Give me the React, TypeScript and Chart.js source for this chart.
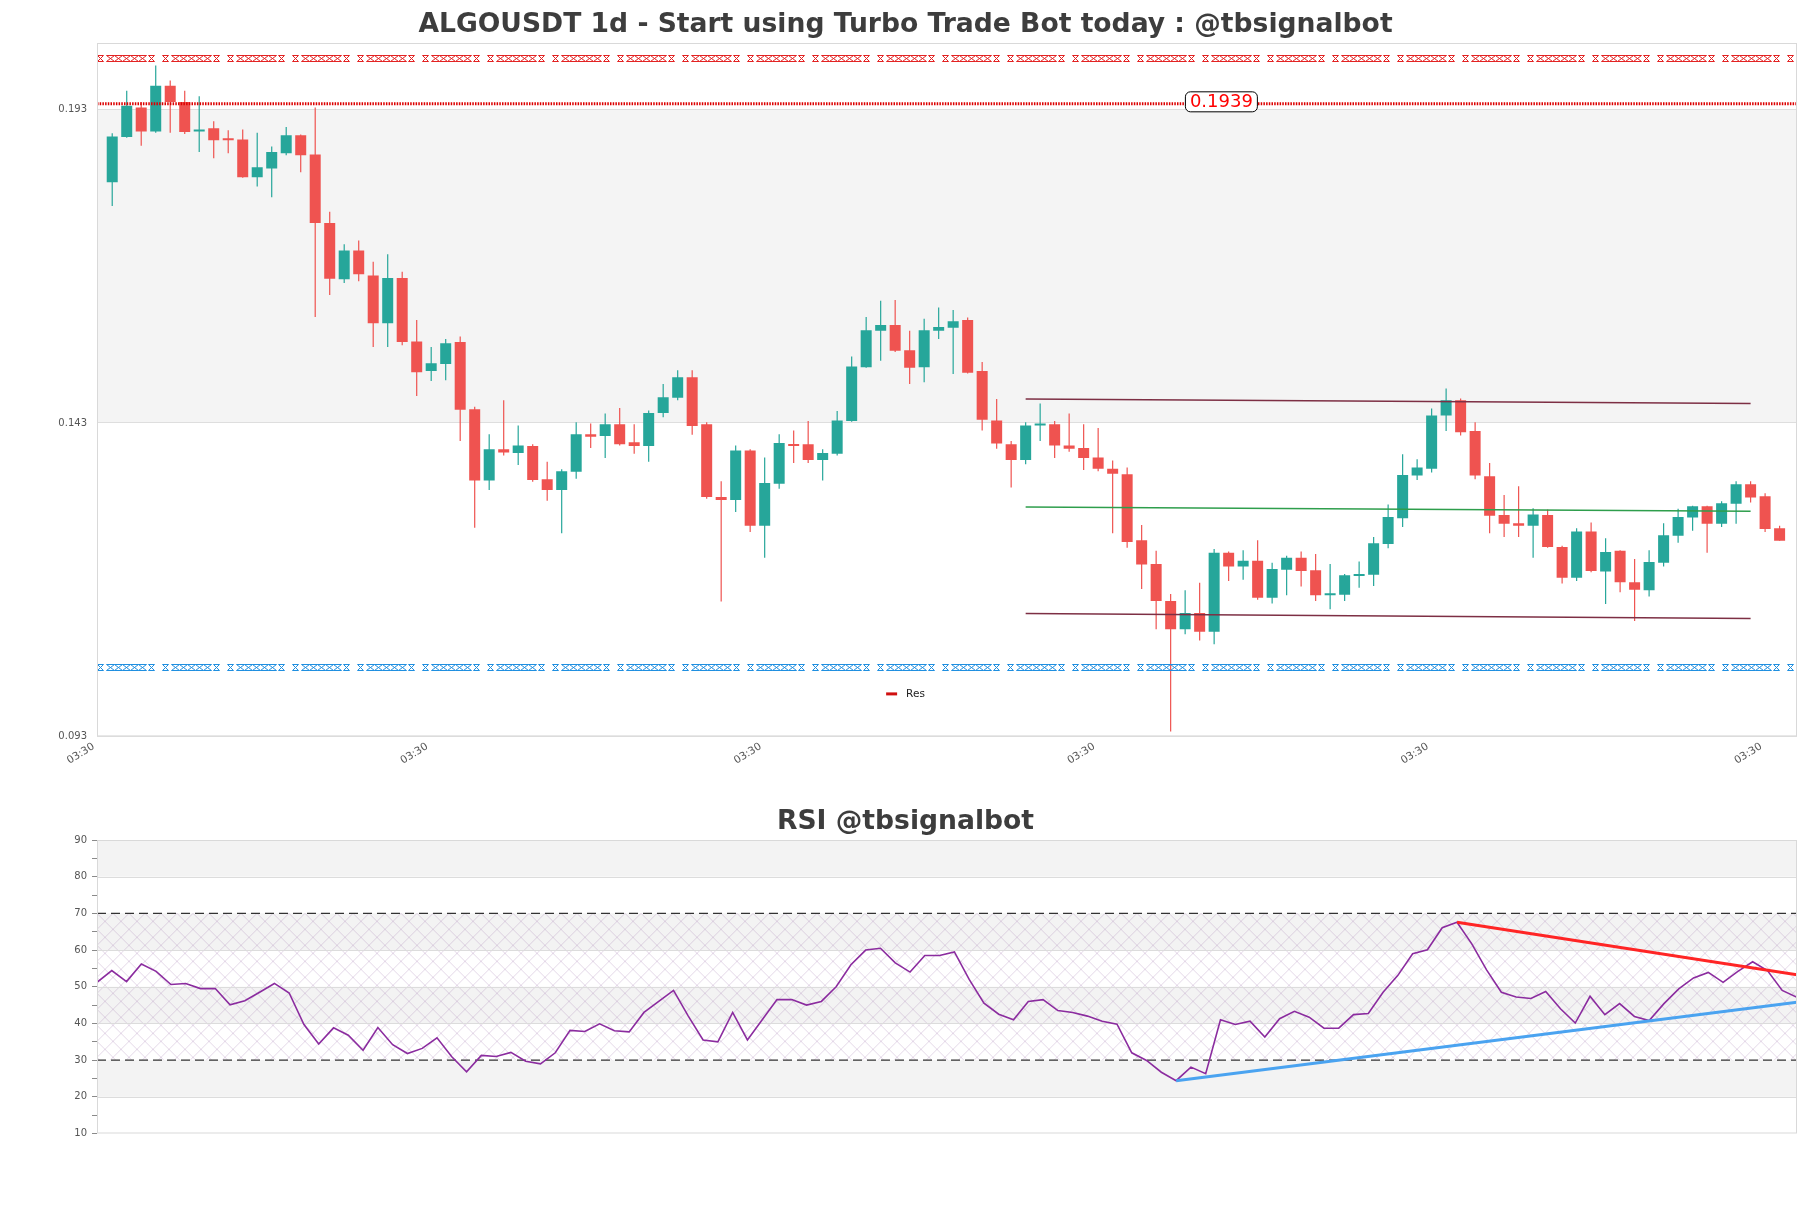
import React, { useEffect, useRef } from 'react';
import { Chart, registerables } from 'chart.js';

Chart.register(...registerables);
Chart.defaults.font.family = 'DejaVu Sans';

// ---------------- Data ----------------
const OPEN = [
  0.1814, 0.1886, 0.1933, 0.1895, 0.1968, 0.1942, 0.1895, 0.1900, 0.1882, 0.1882,
  0.1822, 0.1836, 0.1860, 0.1889, 0.1858, 0.1749, 0.1659, 0.1705, 0.1665, 0.1589,
  0.1661, 0.1560, 0.1513, 0.1524, 0.1559, 0.1452, 0.1338, 0.1388, 0.1382, 0.1393,
  0.1340, 0.1323, 0.1352, 0.1412, 0.1409, 0.1428, 0.1399, 0.1393, 0.1446, 0.1470,
  0.1503, 0.1428, 0.1312, 0.1307, 0.1386, 0.1266, 0.1333, 0.1396, 0.1396, 0.1371,
  0.1381, 0.1433, 0.1519, 0.1577, 0.1586, 0.1546, 0.1519, 0.1577, 0.1582, 0.1594,
  0.1513, 0.1434, 0.1396, 0.1371, 0.1426, 0.1428, 0.1394, 0.1390, 0.1375, 0.1357,
  0.1348, 0.1243, 0.1205, 0.1146, 0.1101, 0.1127, 0.1097, 0.1223, 0.1201, 0.1210,
  0.1151, 0.1196, 0.1215, 0.1195, 0.1155, 0.1156, 0.1186, 0.1188, 0.1237, 0.1278,
  0.1346, 0.1357, 0.1442, 0.1466, 0.1417, 0.1345, 0.1283, 0.1270, 0.1266, 0.1283,
  0.1232, 0.1183, 0.1257, 0.1193, 0.1226, 0.1176, 0.1163, 0.1207, 0.1250, 0.1279,
  0.1297, 0.1269, 0.1301, 0.1332, 0.1313, 0.1262,
];
const HIGH = [
  0.1892, 0.1960, 0.1942, 0.2000, 0.1976, 0.1960, 0.1951, 0.1911, 0.1897, 0.1898,
  0.1893, 0.1871, 0.1902, 0.1890, 0.1933, 0.1767, 0.1715, 0.1721, 0.1687, 0.1699,
  0.1671, 0.1594, 0.1551, 0.1564, 0.1568, 0.1456, 0.1412, 0.1466, 0.1426, 0.1396,
  0.1368, 0.1356, 0.1431, 0.1429, 0.1445, 0.1454, 0.1428, 0.1450, 0.1492, 0.1514,
  0.1514, 0.1431, 0.1337, 0.1394, 0.1388, 0.1375, 0.1412, 0.1418, 0.1433, 0.1388,
  0.1449, 0.1536, 0.1599, 0.1625, 0.1626, 0.1577, 0.1596, 0.1614, 0.1610, 0.1598,
  0.1527, 0.1468, 0.1401, 0.1431, 0.1461, 0.1433, 0.1445, 0.1428, 0.1422, 0.1370,
  0.1359, 0.1267, 0.1226, 0.1157, 0.1163, 0.1175, 0.1229, 0.1225, 0.1227, 0.1243,
  0.1207, 0.1218, 0.1225, 0.1221, 0.1205, 0.1189, 0.1209, 0.1248, 0.1300, 0.1380,
  0.1372, 0.1453, 0.1485, 0.1469, 0.1431, 0.1366, 0.1315, 0.1329, 0.1294, 0.1292,
  0.1234, 0.1262, 0.1271, 0.1246, 0.1227, 0.1213, 0.1227, 0.1270, 0.1293, 0.1298,
  0.1298, 0.1305, 0.1337, 0.1337, 0.1318, 0.1266,
];
const LOW = [
  0.1776, 0.1885, 0.1872, 0.1893, 0.1893, 0.1891, 0.1862, 0.1852, 0.1860, 0.1821,
  0.1807, 0.1790, 0.1857, 0.1830, 0.1599, 0.1634, 0.1653, 0.1656, 0.1551, 0.1551,
  0.1554, 0.1473, 0.1497, 0.1498, 0.1401, 0.1263, 0.1323, 0.1378, 0.1363, 0.1336,
  0.1306, 0.1254, 0.1341, 0.1390, 0.1374, 0.1394, 0.1381, 0.1368, 0.1439, 0.1466,
  0.1411, 0.1309, 0.1145, 0.1288, 0.1256, 0.1215, 0.1325, 0.1366, 0.1366, 0.1338,
  0.1378, 0.1432, 0.1518, 0.1529, 0.1543, 0.1492, 0.1495, 0.1564, 0.1508, 0.1509,
  0.1418, 0.1389, 0.1327, 0.1364, 0.1401, 0.1374, 0.1384, 0.1355, 0.1353, 0.1254,
  0.1231, 0.1165, 0.1101, 0.0938, 0.1093, 0.1083, 0.1077, 0.1178, 0.1180, 0.1148,
  0.1142, 0.1155, 0.1169, 0.1146, 0.1133, 0.1146, 0.1167, 0.1170, 0.1230, 0.1264,
  0.1339, 0.1351, 0.1417, 0.1410, 0.1340, 0.1254, 0.1248, 0.1248, 0.1215, 0.1231,
  0.1174, 0.1178, 0.1192, 0.1141, 0.1160, 0.1114, 0.1153, 0.1201, 0.1239, 0.1258,
  0.1223, 0.1264, 0.1269, 0.1303, 0.1256, 0.1242,
];
const CLOSE = [
  0.1887, 0.1936, 0.1895, 0.1968, 0.1942, 0.1894, 0.1898, 0.1881, 0.1881, 0.1822,
  0.1838, 0.1862, 0.1889, 0.1857, 0.1749, 0.1660, 0.1705, 0.1667, 0.1589, 0.1661,
  0.1559, 0.1511, 0.1525, 0.1557, 0.1451, 0.1338, 0.1388, 0.1383, 0.1394, 0.1339,
  0.1323, 0.1353, 0.1412, 0.1408, 0.1428, 0.1396, 0.1393, 0.1446, 0.1471, 0.1503,
  0.1425, 0.1312, 0.1307, 0.1386, 0.1266, 0.1334, 0.1398, 0.1393, 0.1371, 0.1382,
  0.1434, 0.1520, 0.1578, 0.1586, 0.1545, 0.1518, 0.1578, 0.1583, 0.1592, 0.1510,
  0.1435, 0.1397, 0.1371, 0.1426, 0.1428, 0.1394, 0.1389, 0.1374, 0.1357, 0.1349,
  0.1240, 0.1204, 0.1146, 0.1101, 0.1127, 0.1097, 0.1223, 0.1201, 0.1210, 0.1151,
  0.1197, 0.1215, 0.1194, 0.1155, 0.1157, 0.1187, 0.1189, 0.1238, 0.1280, 0.1347,
  0.1359, 0.1442, 0.1466, 0.1415, 0.1346, 0.1282, 0.1269, 0.1266, 0.1284, 0.1232,
  0.1183, 0.1257, 0.1194, 0.1224, 0.1176, 0.1164, 0.1208, 0.1251, 0.1280, 0.1297,
  0.1269, 0.1302, 0.1332, 0.1311, 0.1261, 0.1242,
];
const RSI = [
  51.2, 54.4, 51.4, 56.2, 54.2, 50.6, 50.9, 49.5, 49.5, 45.1,
  46.2, 48.5, 50.9, 48.3, 39.7, 34.4, 38.8, 36.8, 32.7, 38.9,
  34.2, 31.8, 33.2, 36.1, 30.9, 26.8, 31.3, 31.0, 32.1, 29.7,
  29.0, 32.0, 38.1, 37.8, 39.9, 38.0, 37.7, 43.0, 46.0, 49.0,
  42.0, 35.5, 35.0, 43.0, 35.5, 41.0, 46.5, 46.5, 45.0, 46.0,
  50.0, 56.0, 60.0, 60.5, 56.5, 54.0, 58.5, 58.5, 59.5, 52.0,
  45.5, 42.5, 41.0, 46.0, 46.5, 43.5, 43.0, 42.0, 40.6, 39.8,
  32.0, 29.9, 26.7, 24.4, 28.1, 26.3, 41.0, 39.7, 40.6, 36.3,
  41.3, 43.3, 41.7, 38.7, 38.7, 42.4, 42.7, 48.5, 53.1, 59.0,
  60.1, 66.1, 67.6, 61.7, 54.6, 48.5, 47.2, 46.8, 48.7, 44.0,
  40.1, 47.4, 42.4, 45.4, 41.9, 40.8, 45.4, 49.4, 52.4, 53.9,
  51.2, 54.2, 56.8, 54.4, 49.0, 47.1,
];

const X_TICKS = [-1, 22, 45, 68, 91, 114];
const X_TICK_LABEL = '03:30';
const PRICE_TICKS = [0.093, 0.143, 0.193];
const RES_LEVEL = 0.1939;
const RES_LABEL = '0.1939';
const RES_LABEL_X = 76.5;
const RES_HATCH = 0.2012;
const SUP_HATCH = 0.104;
const CHANNEL_X = [63, 113];
const CHANNEL_UPPER = [0.1468, 0.1461];
const CHANNEL_MID = [0.1296, 0.1289];
const CHANNEL_LOWER = [0.1126, 0.1118];
const RSI_TICK_LABELS = [10, 20, 30, 40, 50, 60, 70, 80, 90];
const RSI_GRAY_BANDS = [[80, 90], [60, 70], [40, 50], [20, 30]];
const RSI_BAND_EDGES = [20, 40, 50, 60, 80];
const RSI_DASHED = [70, 30];
const RSI_SUP_X = [73, 115];
const RSI_SUP_Y = [24.4, 45.8];
const RSI_RES_X = [92, 115];
const RSI_RES_Y = [67.6, 53.3];

const UP = '#26a69a';
const DOWN = '#ef5350';
const TITLE = 'ALGOUSDT 1d - Start using Turbo Trade Bot today : @tbsignalbot';
const RSI_TITLE = 'RSI @tbsignalbot';

// ---------------- helpers ----------------
function diagPattern(ctx: CanvasRenderingContext2D, color: string, size: number) {
  const c = document.createElement('canvas');
  c.width = size;
  c.height = size;
  const g = c.getContext('2d') as CanvasRenderingContext2D;
  g.strokeStyle = color;
  g.lineWidth = 1;
  g.beginPath();
  g.moveTo(0, 0);
  g.lineTo(size, size);
  g.moveTo(size, 0);
  g.lineTo(0, size);
  g.stroke();
  return ctx.createPattern(c, 'repeat') as CanvasPattern;
}

// hatch strip: single X, chain of X's, single X, gap (repeating every 65px)
function hatchStripPattern(ctx: CanvasRenderingContext2D, color: string) {
  const period = 65;
  const h = 7;
  const c = document.createElement('canvas');
  c.width = period;
  c.height = h;
  const g = c.getContext('2d') as CanvasRenderingContext2D;
  g.strokeStyle = color;
  g.lineWidth = 1;
  const drawX = (x0: number, w: number) => {
    g.beginPath();
    g.moveTo(x0, 0.5);
    g.lineTo(x0 + w, h - 0.5);
    g.moveTo(x0 + w, 0.5);
    g.lineTo(x0, h - 0.5);
    g.moveTo(x0, 0.5);
    g.lineTo(x0 + w, 0.5);
    g.moveTo(x0, h - 0.5);
    g.lineTo(x0 + w, h - 0.5);
    g.stroke();
  };
  drawX(0.5, 6);
  for (let k = 0; k < 5; k++) drawX(9.5 + k * 8, 8);
  drawX(51.5, 6);
  return ctx.createPattern(c, 'repeat') as CanvasPattern;
}

function drawHatchLine(ctx: CanvasRenderingContext2D, left: number, right: number, py: number, color: string) {
  ctx.save();
  const h = 7;
  ctx.translate(left, Math.round(py - h / 2));
  ctx.fillStyle = hatchStripPattern(ctx, color);
  ctx.fillRect(0, 0, right - left, h);
  ctx.restore();
}

function roundRect(ctx: CanvasRenderingContext2D, x: number, y: number, w: number, h: number, r: number) {
  ctx.beginPath();
  ctx.moveTo(x + r, y);
  ctx.arcTo(x + w, y, x + w, y + h, r);
  ctx.arcTo(x + w, y + h, x, y + h, r);
  ctx.arcTo(x, y + h, x, y, r);
  ctx.arcTo(x, y, x + w, y, r);
  ctx.closePath();
}

function drawTitle(chart: any, text: string, cy: number) {
  const { ctx } = chart;
  ctx.save();
  ctx.font = 'bold 26.6px DejaVu Sans';
  ctx.fillStyle = '#3d3d3d';
  ctx.textAlign = 'center';
  ctx.textBaseline = 'middle';
  ctx.fillText(text, chart.width / 2, cy);
  ctx.restore();
}

const topPlugin = {
  id: 'topDecor',
  beforeDraw(chart: any) {
    const { ctx, chartArea: a, scales } = chart;
    const y = scales.y;
    ctx.save();
    ctx.fillStyle = '#f4f4f4';
    const y1 = y.getPixelForValue(PRICE_TICKS[2]);
    const y2 = y.getPixelForValue(PRICE_TICKS[1]);
    ctx.fillRect(a.left, y1, a.right - a.left, y2 - y1);
    ctx.restore();
  },
  afterDatasetsDraw(chart: any) {
    const { ctx, chartArea: a, scales } = chart;
    const y = scales.y;
    const x = scales.x;
    drawHatchLine(ctx, a.left, a.right, y.getPixelForValue(RES_HATCH), '#e32222');
    drawHatchLine(ctx, a.left, a.right, y.getPixelForValue(SUP_HATCH), '#1f8fe0');

    const py = y.getPixelForValue(RES_LEVEL);
    ctx.save();
    ctx.strokeStyle = '#dd0000';
    ctx.lineWidth = 3;
    ctx.setLineDash([1.5, 1.2]);
    ctx.beginPath();
    ctx.moveTo(a.left, py);
    ctx.lineTo(a.right, py);
    ctx.stroke();
    ctx.restore();

    // price label
    ctx.save();
    ctx.font = '18px DejaVu Sans';
    const tw = ctx.measureText(RES_LABEL).width;
    const bw = tw + 9;
    const bh = 20;
    const cx = x.getPixelForValue(RES_LABEL_X);
    const cy = py - 2;
    roundRect(ctx, cx - bw / 2, cy - bh / 2, bw, bh, 5);
    ctx.fillStyle = '#ffffff';
    ctx.fill();
    ctx.strokeStyle = '#000000';
    ctx.lineWidth = 1;
    ctx.stroke();
    ctx.fillStyle = '#ff0000';
    ctx.textAlign = 'center';
    ctx.textBaseline = 'middle';
    ctx.fillText(RES_LABEL, cx, cy + 1);
    ctx.restore();

    // legend
    ctx.save();
    ctx.font = '10.5px DejaVu Sans';
    const lt = 'Res';
    const ltw = ctx.measureText(lt).width;
    const total = 11 + 9 + ltw;
    const lx = chart.width / 2 - total / 2;
    const ly = a.bottom - 42.5;
    ctx.strokeStyle = '#d01010';
    ctx.lineWidth = 3;
    ctx.beginPath();
    ctx.moveTo(lx, ly);
    ctx.lineTo(lx + 11, ly);
    ctx.stroke();
    ctx.fillStyle = '#222222';
    ctx.textBaseline = 'middle';
    ctx.textAlign = 'left';
    ctx.fillText(lt, lx + 20, ly);
    ctx.restore();
  },
  afterDraw(chart: any) {
    const { ctx, chartArea: a } = chart;
    ctx.save();
    ctx.strokeStyle = '#d9d9d9';
    ctx.lineWidth = 1;
    ctx.strokeRect(a.left + 0.5, a.top + 0.5, a.right - a.left - 1, a.bottom - a.top - 1);
    ctx.restore();
    drawTitle(chart, TITLE, 24.8);
  },
};

const rsiPlugin = {
  id: 'rsiDecor',
  beforeDraw(chart: any) {
    const { ctx, chartArea: a, scales } = chart;
    const y = scales.y;
    ctx.save();
    ctx.fillStyle = '#f3f3f3';
    RSI_GRAY_BANDS.forEach(([lo, hi]) => {
      const t = y.getPixelForValue(hi);
      const b = y.getPixelForValue(lo);
      ctx.fillRect(a.left, t, a.right - a.left, b - t);
    });
    const t70 = y.getPixelForValue(RSI_DASHED[0]);
    const b30 = y.getPixelForValue(RSI_DASHED[1]);
    ctx.translate(a.left, t70);
    ctx.fillStyle = diagPattern(ctx, 'rgba(170,135,185,0.32)', 16);
    ctx.fillRect(0, 0, a.right - a.left, b30 - t70);
    ctx.restore();

    ctx.save();
    ctx.strokeStyle = '#dcdcdc';
    ctx.lineWidth = 1;
    RSI_BAND_EDGES.forEach((v) => {
      const p = Math.round(y.getPixelForValue(v)) + 0.5;
      ctx.beginPath();
      ctx.moveTo(a.left, p);
      ctx.lineTo(a.right, p);
      ctx.stroke();
    });
    ctx.restore();
  },
  beforeDatasetsDraw(chart: any) {
    const { ctx, chartArea: a, scales } = chart;
    const y = scales.y;
    ctx.save();
    ctx.strokeStyle = '#333333';
    ctx.lineWidth = 1.2;
    ctx.setLineDash([9, 5]);
    RSI_DASHED.forEach((v) => {
      const p = y.getPixelForValue(v);
      ctx.beginPath();
      ctx.moveTo(a.left, p);
      ctx.lineTo(a.right, p);
      ctx.stroke();
    });
    ctx.restore();
  },
  afterDraw(chart: any) {
    const { ctx, chartArea: a } = chart;
    ctx.save();
    ctx.strokeStyle = '#d9d9d9';
    ctx.lineWidth = 1;
    ctx.strokeRect(a.left + 0.5, a.top + 0.5, a.right - a.left - 1, a.bottom - a.top - 1);
    ctx.restore();
    drawTitle(chart, RSI_TITLE, 32.4);
  },
};

export default function App() {
  const topRef = useRef<HTMLCanvasElement>(null);
  const rsiRef = useRef<HTMLCanvasElement>(null);

  useEffect(() => {
    const colors = OPEN.map((o, i) => (CLOSE[i] >= o ? UP : DOWN));
    const lineDs = (xs: number[], ys: number[], color: string, width: number, order: number) => ({
      type: 'line' as const,
      data: xs.map((xv, i) => ({ x: xv, y: ys[i] })),
      borderColor: color,
      borderWidth: width,
      pointRadius: 0,
      fill: false,
      tension: 0,
      order,
    });

    const top = new Chart(topRef.current as HTMLCanvasElement, {
      type: 'bar',
      data: {
        datasets: [
          {
            type: 'bar',
            label: 'wick',
            data: LOW.map((l, i) => ({ x: i, y: [l, HIGH[i]] })) as any,
            backgroundColor: colors,
            borderWidth: 0,
            grouped: false,
            maxBarThickness: 1.2,
            order: 3,
          } as any,
          {
            type: 'bar',
            label: 'body',
            data: OPEN.map((o, i) => ({ x: i, y: [o, CLOSE[i]] })) as any,
            backgroundColor: colors,
            borderWidth: 0,
            grouped: false,
            barPercentage: 0.8,
            categoryPercentage: 0.95,
            maxBarThickness: 11,
            minBarLength: 2,
            order: 2,
          } as any,
          lineDs(CHANNEL_X, CHANNEL_UPPER, '#7d2f44', 1.5, 1),
          lineDs(CHANNEL_X, CHANNEL_MID, '#2e9e4c', 1.5, 1),
          lineDs(CHANNEL_X, CHANNEL_LOWER, '#7d2f44', 1.5, 1),
        ],
      },
      options: {
        responsive: false,
        animation: false,
        events: [],
        layout: { padding: { left: 0, right: 14, top: 43, bottom: 0 } },
        plugins: {
          legend: { display: false },
          tooltip: { enabled: false },
          title: { display: false },
        },
        scales: {
          x: {
            type: 'linear',
            min: -1.05,
            max: 116.2,
            offset: false,
            afterBuildTicks: (s: any) => {
              s.ticks = X_TICKS.map((v) => ({ value: v }));
            },
            afterFit: (s: any) => {
              s.height = 53.6;
            },
            ticks: {
              autoSkip: false,
              maxRotation: 32,
              minRotation: 32,
              padding: -4,
              labelOffset: -4,
              color: '#555555',
              font: { size: 10.5 },
              callback: () => X_TICK_LABEL,
            },
            grid: { display: false },
            border: { display: false },
          },
          y: {
            type: 'linear',
            min: 0.093,
            max: 0.2036,
            afterBuildTicks: (s: any) => {
              s.ticks = PRICE_TICKS.map((v) => ({ value: v }));
            },
            afterFit: (s: any) => {
              s.width = 97;
            },
            ticks: {
              padding: 10,
              color: '#555555',
              font: { size: 10 },
              callback: (v: any) => Number(v).toFixed(3),
            },
            grid: { color: '#dedede', drawTicks: false, lineWidth: 1 },
            border: { display: false },
          },
        },
      } as any,
      plugins: [topPlugin],
    });

    const rsi = new Chart(rsiRef.current as HTMLCanvasElement, {
      type: 'line',
      data: {
        datasets: [
          lineDs(RSI_SUP_X, RSI_SUP_Y, '#4aa3f0', 3, 1),
          lineDs(RSI_RES_X, RSI_RES_Y, '#ff2525', 3, 1),
          lineDs(RSI.map((_, i) => i), RSI, '#8b2c9f', 1.6, 2),
        ],
      },
      options: {
        responsive: false,
        animation: false,
        events: [],
        layout: { padding: { left: 0, right: 14, top: 50, bottom: 0 } },
        plugins: {
          legend: { display: false },
          tooltip: { enabled: false },
          title: { display: false },
        },
        scales: {
          x: {
            type: 'linear',
            min: 0,
            max: RSI.length - 1,
            offset: false,
            afterFit: (s: any) => {
              s.height = 74.5;
            },
            ticks: { display: false },
            grid: { display: false },
            border: { display: false },
          },
          y: {
            type: 'linear',
            min: 10,
            max: 90,
            afterFit: (s: any) => {
              s.width = 97;
            },
            ticks: {
              stepSize: 5,
              autoSkip: false,
              padding: 5,
              color: '#555555',
              font: { size: 10 },
              callback: (v: any) => (RSI_TICK_LABELS.includes(Number(v)) ? String(v) : ''),
            },
            grid: { drawOnChartArea: false, drawTicks: true, tickLength: 5, color: '#8a8a8a' },
            border: { display: false },
          },
        },
      } as any,
      plugins: [rsiPlugin],
    });

    return () => {
      top.destroy();
      rsi.destroy();
    };
  }, []);

  return (
    <div style={{ position: 'absolute', left: 0, top: 0, width: 1811, height: 1208, background: '#ffffff' }}>
      <canvas ref={topRef} width={1811} height={790} style={{ position: 'absolute', left: 0, top: 0 }} />
      <canvas ref={rsiRef} width={1811} height={418} style={{ position: 'absolute', left: 0, top: 790 }} />
    </div>
  );
}
